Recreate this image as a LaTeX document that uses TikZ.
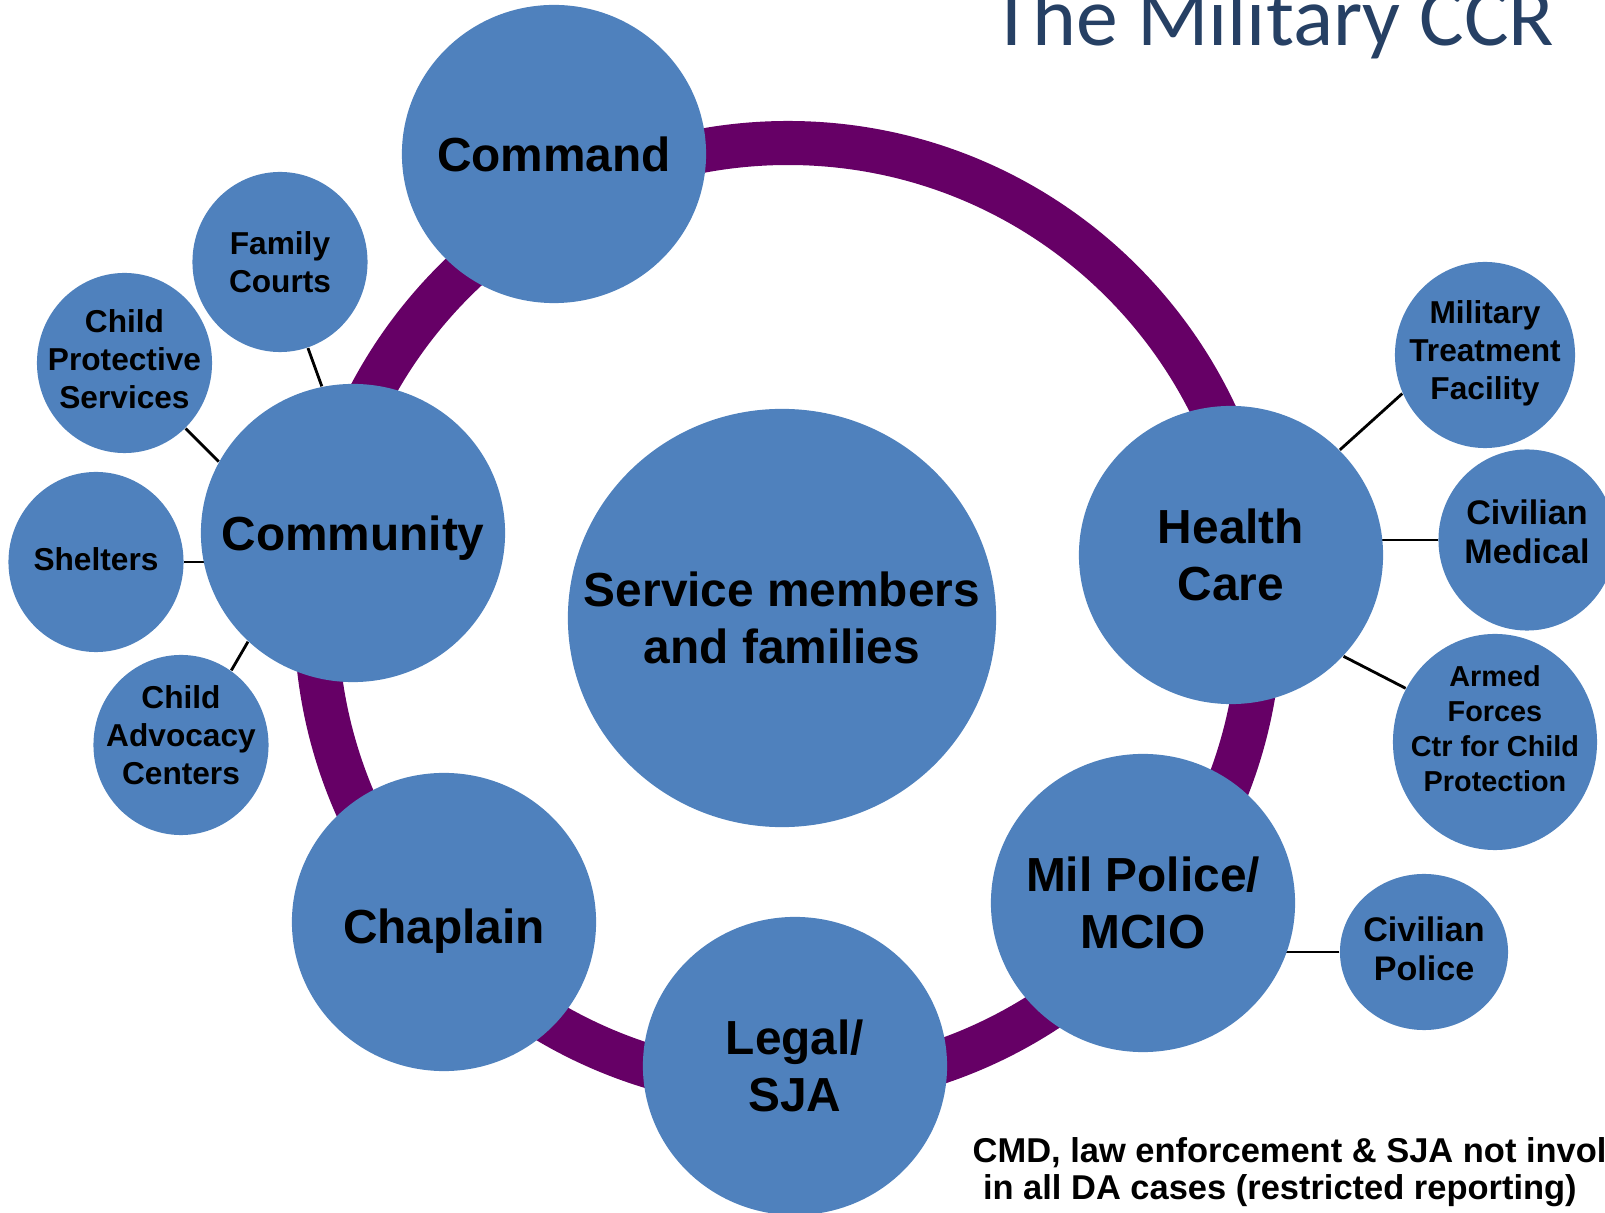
\documentclass[tikz,border=0pt]{standalone}
\usepackage{fontspec}
\setmainfont{Liberation Sans}
\newfontfamily\titlefont{Carlito}
\usetikzlibrary{shapes.geometric}
\pgfdeclarelayer{background}
\pgfsetlayers{background,main}
\definecolor{bubble}{HTML}{4F81BD}
\definecolor{ringpurple}{HTML}{660066}
\definecolor{titleblue}{RGB}{38,64,100}
\tikzset{
  bubblebase/.style={ellipse, fill=bubble, inner sep=0pt},
  big/.style={bubblebase, minimum width=3.04cm, minimum height=2.98cm},
  small/.style={bubblebase, minimum width=1.75cm, minimum height=1.8cm},
  bigtext/.style={align=center, inner sep=0pt, font=\fontsize{13.6}{16.3}\selectfont\bfseries},
  smalltext/.style={align=center, inner sep=0pt, font=\fontsize{9}{10.8}\selectfont\bfseries},
  civtext/.style={align=center, inner sep=0pt, font=\fontsize{9.7}{11.1}\selectfont\bfseries},
  afctext/.style={align=center, inner sep=0pt, font=\fontsize{8.2}{9.9}\selectfont\bfseries},
  link/.style={draw=black, line width=0.8pt},
  ringline/.style={draw=ringpurple, line width=0.44cm}
}
\begin{document}
\begin{tikzpicture}[x=0.01cm, y=-0.01cm]
\useasboundingbox (0,0) rectangle (1605,1213);
\clip (0,0) rectangle (1605,1213);

% main bubbles
\node[bubblebase, minimum width=4.28cm, minimum height=4.18cm,
      label={[bigtext]center:{Service members\\and families}}] (svc) at (782,618) {};
\node[big, label={[bigtext]center:Command}] (cmd) at (554,154) {};
\node[big, label={[bigtext, yshift=-1.4pt]center:Community}] (comm) at (353,533) {};
\node[big, label={[bigtext]center:{Health\\Care}}] (hc) at (1231,555) {};
\node[big, label={[bigtext, yshift=-2.7pt]center:Chaplain}] (chap) at (444,922) {};
\node[big, label={[bigtext]center:{Legal/\\SJA}}] (legal) at (795,1066) {};
\node[big, label={[bigtext]center:{Mil Police/\\MCIO}}] (mp) at (1143,903) {};

% community satellites
\node[small, label={[smalltext]center:{Family\\Courts}}] (fam) at (280,262) {};
\node[small, label={[smalltext, yshift=1.2pt]center:{Child\\Protective\\Services}}] (cps) at (124.5,363) {};
\node[small, label={[smalltext, yshift=0.9pt]center:Shelters}] (shel) at (96,562) {};
\node[small, label={[smalltext, yshift=2.8pt]center:{Child\\Advocacy\\Centers}}] (adv) at (181,745) {};

% health care / police satellites
\node[bubblebase, minimum width=1.8cm, minimum height=1.86cm,
      label={[smalltext, yshift=0.6pt]center:{Military\\Treatment\\Facility}}] (mtf) at (1485,355) {};
\node[bubblebase, minimum width=1.77cm, minimum height=1.81cm,
      label={[civtext, yshift=2.3pt]center:{Civilian\\Medical}}] (civmed) at (1527,540) {};
\node[bubblebase, minimum width=2.04cm, minimum height=2.16cm,
      label={[afctext, yshift=3.8pt]center:{Armed\\Forces\\Ctr for Child\\Protection}}] (armed) at (1495,742) {};
\node[bubblebase, minimum width=1.68cm, minimum height=1.56cm,
      label={[civtext, yshift=0.9pt]center:{Civilian\\Police}}] (civpol) at (1424,952) {};

% title and note
\node[anchor=base west, inner sep=0pt, text=titleblue,
      font=\titlefont\fontsize{23.8}{28}\selectfont] (title) at (991,46) {The Military CCR};
\node[anchor=base west, inner sep=0pt, align=left,
      font=\fontsize{9.8}{10.8}\selectfont\bfseries] (note) at (972,1200)
      {CMD, law enforcement \& SJA not involved\\\hspace*{0.3em}in all DA cases (restricted reporting)};

\begin{pgfonlayer}{background}
  \draw[ringline] (788,615) circle [radius=472];
  \draw[link] (fam.-72) -- (comm.102);
  \draw[link] (cps.-47.5) -- (comm.152);
  \draw[link] (shel.east) -- (shel -| comm);
  \draw[link] (adv.56) -- (comm.226);
  \draw[link] (mtf.205) -- (hc.44);
  \draw[link] (civmed.west) -- (civmed -| hc);
  \draw[link] (armed.149) -- (hc.-42);
  \draw[link] (civpol.west) -- (civpol -| mp);
\end{pgfonlayer}
\end{tikzpicture}
\end{document}
